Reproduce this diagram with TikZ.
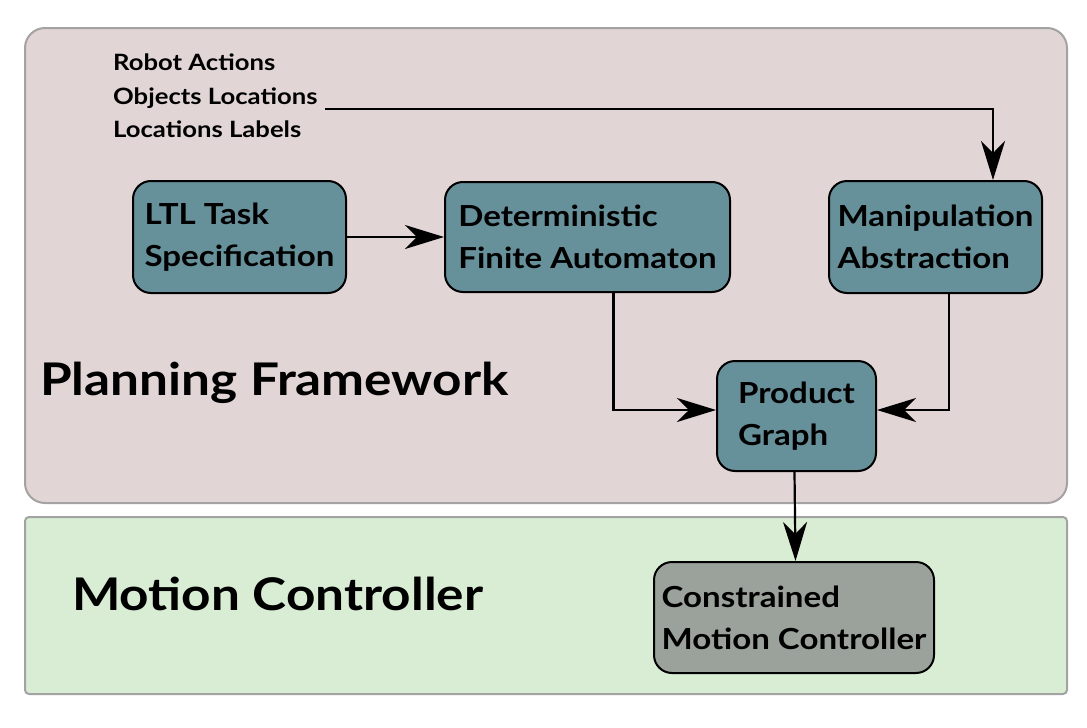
\documentclass[tikz,border=0pt]{standalone}
\usepackage{fontspec}
\setmainfont{Lato}[FakeStretch=1.14]
\usetikzlibrary{arrows.meta}
\definecolor{pinkbg}{HTML}{E1D5D6}
\definecolor{greenbg}{HTML}{D9EDD5}
\definecolor{teal}{HTML}{66909A}
\definecolor{greybox}{HTML}{9BA29B}
\definecolor{frame}{HTML}{A3A3A3}
\tikzset{
  blk/.style={draw=black, line width=2pt, rounded corners=18pt, fill=teal, align=left,
    font=\fontsize{29}{42}\selectfont\bfseries, inner sep=0pt},
  conn/.style={line width=2.2pt, -{Stealth[length=39pt,width=24pt,inset=12pt]}},
  region/.style={draw=frame, line width=2pt},
  bigtitle/.style={font=\fontsize{45}{50}\selectfont\bfseries, anchor=base west, inner sep=0pt},
}
\begin{document}
\begin{tikzpicture}[x=1pt,y=-1pt]
\useasboundingbox (0,0) rectangle (1087,728);
\fill[white] (0,0) rectangle (1087,728);
\draw[region, fill=pinkbg, rounded corners=20pt] (25,28) rectangle (1067,503);
\draw[region, fill=greenbg, rounded corners=4pt] (25,517) rectangle (1067,694);

\node[bigtitle] (pf) at (40,395) {Planning Framework};
\node[bigtitle] (mc) at (72,610) {Motion Controller};

\node[anchor=north west, align=left, inner sep=0pt,
  font=\fontsize{22.5}{33.5}\selectfont\bfseries] (inputs) at (113,54)
  {Robot Actions\\Objects Locations\\Locations Labels};
\coordinate (in) at (325,109);

\node[blk, minimum width=213pt, minimum height=112pt] (ltl) at (239.5,237) {LTL Task\\Specification};
\node[blk, minimum width=285pt, minimum height=110pt] (dfa) at (587.5,237) {Deterministic\\Finite Automaton};
\node[blk, minimum width=213pt, minimum height=112pt] (manip) at (935.5,237) {Manipulation\\Abstraction};
\node[blk, minimum width=159pt, minimum height=110pt] (prod) at (796.5,416) {Product\\Graph};
\node[blk, fill=greybox, minimum width=280pt, minimum height=111pt] (cmc) at (794,617.5) {Constrained\\Motion Controller};

\draw[conn] (in) -| ([xshift=57.5pt]manip.north);
\draw[conn] (ltl.east) -- (dfa.west);
\draw[conn] ([xshift=26pt]dfa.south) |- ([yshift=6pt]prod.west);
\draw[conn] ([xshift=13.5pt]manip.south) |- ([yshift=6pt]prod.east);
\draw[conn] ([xshift=-2pt]prod.south) -- ([xshift=-1pt]prod.south |- cmc.north);
\end{tikzpicture}
\end{document}
